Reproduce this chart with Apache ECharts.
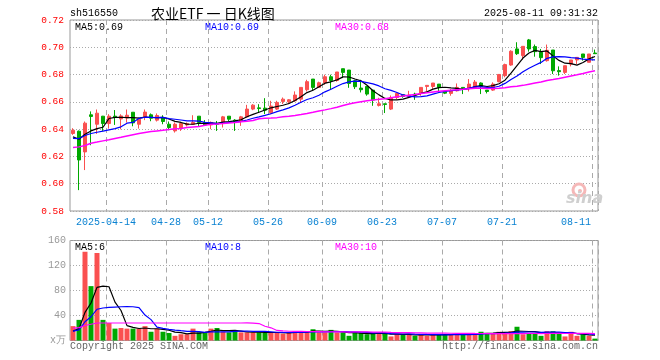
<!DOCTYPE html>
<html><head><meta charset="utf-8">
<script src="https://cdn.jsdelivr.net/npm/echarts@6/dist/echarts.min.js"></script>
<style>html,body{margin:0;padding:0;background:#fff}#c{width:660px;height:360px}</style>
</head><body><div id="c"></div>
<script>
const dates = ['2025-04-03','2025-04-07','2025-04-08','2025-04-09','2025-04-10','2025-04-11','2025-04-14','2025-04-15','2025-04-16','2025-04-17','2025-04-18','2025-04-21','2025-04-22','2025-04-23','2025-04-24','2025-04-25','2025-04-28','2025-04-29','2025-04-30','2025-05-06','2025-05-07','2025-05-08','2025-05-09','2025-05-12','2025-05-13','2025-05-14','2025-05-15','2025-05-16','2025-05-19','2025-05-20','2025-05-21','2025-05-22','2025-05-23','2025-05-26','2025-05-27','2025-05-28','2025-05-29','2025-05-30','2025-06-03','2025-06-04','2025-06-05','2025-06-06','2025-06-09','2025-06-10','2025-06-11','2025-06-12','2025-06-13','2025-06-16','2025-06-17','2025-06-18','2025-06-19','2025-06-20','2025-06-23','2025-06-24','2025-06-25','2025-06-26','2025-06-27','2025-06-30','2025-07-01','2025-07-02','2025-07-03','2025-07-04','2025-07-07','2025-07-08','2025-07-09','2025-07-10','2025-07-11','2025-07-14','2025-07-15','2025-07-16','2025-07-17','2025-07-18','2025-07-21','2025-07-22','2025-07-23','2025-07-24','2025-07-25','2025-07-28','2025-07-29','2025-07-30','2025-07-31','2025-08-01','2025-08-04','2025-08-05','2025-08-06','2025-08-07','2025-08-08','2025-08-11'];

const opens = [.6368,.6385,.6233,.6505,.6436,.6495,.6441,.6495,.6475,.6482,
.6524,.6436,.6490,.6505,.6466,.6485,.6436,.6387,.6407,.6431,
.6436,.6495,.6449,.6431,.6441,.6449,.6495,.6466,.6456,.6490,
.6547,.6556,.6554,.6520,.6547,.6603,.6600,.6608,.6620,.6689,
.6767,.6706,.6738,.6784,.6757,.6843,.6833,.6755,.6701,.6713,
.6686,.6574,.6586,.6547,.6632,.6652,.6640,.6657,.6662,.6713,
.6713,.6730,.6676,.6662,.6681,.6706,.6699,.6706,.6738,.6686,
.6686,.6748,.6792,.6870,.6988,.6939,.7054,.7005,.6963,.6902,
.6980,.6829,.6816,.6877,.6907,.6951,.6890,.6958];
const closes = [.6392,.6174,.6444,.6493,.6517,.6441,.6495,.6485,.6497,.6502,
.6446,.6473,.6525,.6480,.6500,.6456,.6412,.6436,.6441,.6441,
.6449,.6449,.6431,.6449,.6436,.6490,.6473,.6456,.6490,.6547,
.6576,.6551,.6539,.6569,.6596,.6620,.6615,.6650,.6706,.6748,
.6706,.6740,.6784,.6757,.6819,.6816,.6735,.6711,.6689,.6657,
.6613,.6586,.6581,.6632,.6662,.6640,.6650,.6650,.6706,.6721,
.6738,.6706,.6664,.6681,.6706,.6699,.6730,.6745,.6713,.6676,
.6730,.6801,.6873,.6971,.6953,.7007,.6988,.6968,.6924,.6978,
.6828,.6821,.6865,.6907,.6926,.6926,.6951,.6953];
const lows = [.6358,.5953,.6100,.6282,.6365,.6387,.6404,.6431,.6399,.6448,
.6421,.6404,.6466,.6458,.6456,.6436,.6392,.6375,.6387,.6420,
.6436,.6424,.6424,.6400,.6387,.6412,.6456,.6387,.6424,.6485,
.6539,.6520,.6510,.6510,.6540,.6583,.6583,.6600,.6596,.6676,
.6686,.6703,.6726,.6691,.6748,.6774,.6703,.6694,.6669,.6645,
.6571,.6566,.6518,.6540,.6620,.6630,.6632,.6615,.6645,.6674,
.6696,.6669,.6657,.6645,.6676,.6657,.6676,.6694,.6657,.6662,
.6680,.6743,.6780,.6865,.6944,.6909,.6968,.6931,.6877,.6895,
.6804,.6792,.6804,.6860,.6877,.6902,.6890,.6953];
const highs = [.6407,.6390,.6456,.6530,.6544,.6497,.6510,.6540,.6509,.6544,
.6524,.6485,.6544,.6515,.6515,.6502,.6456,.6449,.6441,.6449,
.6502,.6495,.6466,.6456,.6460,.6497,.6495,.6473,.6497,.6578,
.6583,.6583,.6627,.6608,.6608,.6632,.6620,.6677,.6706,.6762,
.6767,.6748,.6799,.6799,.6819,.6843,.6833,.6762,.6762,.6713,
.6686,.6630,.6586,.6647,.6667,.6652,.6681,.6667,.6706,.6721,
.6738,.6730,.6676,.6694,.6735,.6706,.6767,.6760,.6743,.6686,
.6743,.6801,.6880,.6978,.7037,.7007,.7061,.7020,.6988,.7020,
.6980,.6860,.6865,.6907,.6926,.6951,.6951,.6983];
const volumes = [23,33,142,87,140,33,28,19,20,19,
19,19,23,14,19,14,12,7.5,10,10,
19,13,13,19,20,14,13,15,13,13,
13,13,12,13,13,11,12,15,15,15,
18,13,13,17,13,13,7.5,13,12,10,
12,11,12,6.5,10,10,10,7.5,10,7.5,
10,10,10,10,10,10,10,12,14,12,
12,14,13,15,22,10,12,12,7.5,15,
15,12,6.5,14,7.5,10,7.5,3];

// moving-average values at the left edge (window starts before the chart)
const ma5Head = [.6343,.6326,.6363,.6387];
const ma10Head = [.6333,.6331,.6353,.6368,.6377,.6385,.6395,.6404,.6417];
const ma30Head = [.6265,.6270,.6280,.6297,.6305,.6314,.6322,.6331,.6340,.6350,
.6359,.6368,.6375,.6382,.6387,.6392,.6397,.6402,.6405,.6412,
.6416,.6420,.6428,.6436,.6438,.6441,.6445,.6449,.6455];
const vma5Head = [15,19,45,60];
const vma10Head = [15,17,30,38,50,52,53,53.5,54];
const vma30Head = [19.5,20.5,24,26,28,28,28,28,28,28,28,28,28,28,28,28,28,28,28,28,28,28,28,28,28,28,28,28,28];

const tickDates = ['2025-04-14','2025-04-28','2025-05-12','2025-05-26','2025-06-09','2025-06-23','2025-07-07','2025-07-21','2025-08-11'];
const tickLabels = ['2025-04-14','04-28','05-12','05-26','06-09','06-23','07-07','07-21','08-11'];
const priceTicks = {min: 0.58, max: 0.72, step: 0.02};
const volTicks = {min: 0, max: 160, step: 40};

function movingAvg(src, n, head) {
  return src.map((_, i) => {
    if (i < n - 1) return head[i];
    let s = 0;
    for (let k = i - n + 1; k <= i; k++) s += src[k];
    return +(s / n).toFixed(5);
  });
}

const UP = '#fa5050', DOWN = '#00a800';
const MONO = '"Liberation Mono","DejaVu Sans Mono",monospace';
const GRID_C = '#aaaaaa';

const kData = dates.map((d, i) => [opens[i], closes[i], lows[i], highs[i]]);
const isTick = (idx, val) => tickDates.indexOf(val) >= 0;

function xAxisCfg(gridIndex, withLabels) {
  return {
    type: 'category', gridIndex, data: dates, boundaryGap: true,
    axisLine: {show: false}, axisTick: {show: false},
    axisLabel: withLabels ? {
      show: true, interval: isTick, margin: 6,
      formatter: (val, idx) => {
        const t = tickLabels[tickDates.indexOf(val)];
        return idx === dates.length - 1 ? '{e|' + t + '}' : '{n|' + t + '}';
      },
      rich: {
        n: {fontFamily: MONO, fontSize: 10, color: '#0a82d2', padding: [0, 6, 0, 0]},
        e: {fontFamily: MONO, fontSize: 10, color: '#0a82d2', padding: [0, 38, 0, 0]}
      }
    } : {show: false},
    splitLine: {show: true, interval: isTick, lineStyle: {color: GRID_C, type: [5, 4], width: 1}}
  };
}

const lineS = (name, data, color, xi, yi, w) => ({
  name, type: 'line', data, xAxisIndex: xi, yAxisIndex: yi, showSymbol: false, symbol: 'none',
  smooth: false, z: 5, lineStyle: {color, width: w}, silent: true, animation: false
});

const chart = echarts.init(document.getElementById('c'), null, {renderer: 'canvas'});
const txt = (x, y, text, fill, opts) => Object.assign({
  type: 'text', x, y, style: Object.assign({text, fill, font: '10px ' + MONO, textVerticalAlign: 'middle'}, opts || {})
});

chart.setOption({
  animation: false,
  backgroundColor: '#ffffff',
  grid: [
    {left: 70, top: 20, width: 528, height: 191, show: true, borderColor: '#999', borderWidth: 1, backgroundColor: 'transparent'},
    {left: 70, top: 240.5, width: 528, height: 100, show: true, borderColor: '#999', borderWidth: 1, backgroundColor: 'transparent'}
  ],
  xAxis: [xAxisCfg(0, true), xAxisCfg(1, false)],
  yAxis: [
    {type: 'value', gridIndex: 0, min: priceTicks.min, max: priceTicks.max, interval: priceTicks.step,
     axisLine: {show: false}, axisTick: {show: false},
     axisLabel: {color: '#ff0000', fontFamily: MONO, fontSize: 9.5, margin: 6, formatter: v => v.toFixed(2)},
     splitLine: {show: true, lineStyle: {color: GRID_C, type: [1, 2], width: 1}}},
    {type: 'value', gridIndex: 1, min: volTicks.min, max: volTicks.max, interval: volTicks.step,
     axisLine: {show: false}, axisTick: {show: false},
     axisLabel: {color: '#999', fontFamily: MONO, fontSize: 10, margin: 4, formatter: v => v === 0 ? 'x万' : String(v)},
     splitLine: {show: true, lineStyle: {color: GRID_C, type: [1, 2], width: 1}}}
  ],
  series: [
    {type: 'candlestick', xAxisIndex: 0, yAxisIndex: 0, data: kData, barWidth: 4, z: 3, silent: true,
     itemStyle: {color: UP, color0: DOWN, borderColor: UP, borderColor0: DOWN, borderWidth: 1}},
    lineS('MA5', movingAvg(closes, 5, ma5Head), '#000000', 0, 0, 1.2),
    lineS('MA10', movingAvg(closes, 10, ma10Head), '#0000ff', 0, 0, 1.2),
    lineS('MA30', movingAvg(closes, 30, ma30Head), '#ff00ff', 0, 0, 1.5),
    {type: 'bar', xAxisIndex: 1, yAxisIndex: 1, data: volumes, barWidth: 5, z: 3, silent: true,
     itemStyle: {color: p => closes[p.dataIndex] >= opens[p.dataIndex] ? UP : DOWN}},
    lineS('VMA5', movingAvg(volumes, 5, vma5Head), '#000000', 1, 1, 1.2),
    lineS('VMA10', movingAvg(volumes, 10, vma10Head), '#0000ff', 1, 1, 1.2),
    lineS('VMA30', movingAvg(volumes, 30, vma30Head), '#ff00ff', 1, 1, 1.2)
  ],
  graphic: [
    txt(70, 13, 'sh516550', '#000'),
    txt(151, 14, '农业ETF 一 日K线图', '#000', {font: '14px "Noto Sans CJK SC", sans-serif'}),
    txt(598, 13, '2025-08-11 09:31:32', '#000', {textAlign: 'right'}),
    txt(75, 27, 'MA5:0.69', '#000'),
    txt(205, 27, 'MA10:0.69', '#0000ff'),
    txt(335, 27, 'MA30:0.68', '#ff00ff'),
    txt(75, 247, 'MA5:6', '#000'),
    txt(205, 247, 'MA10:8', '#0000ff'),
    txt(335, 247, 'MA30:10', '#ff00ff'),
    txt(70, 346, 'Copyright 2025 SINA.COM', '#666'),
    txt(598, 346, 'http://finance.sina.com.cn', '#666', {textAlign: 'right'}),
    {type: 'circle', shape: {cx: 579, cy: 190, r: 6}, style: {fill: 'none', stroke: '#f5b8b8', lineWidth: 3}, z: 1},
    {type: 'circle', shape: {cx: 580, cy: 191, r: 2}, style: {fill: '#f5b8b8'}, z: 1},
    {type: 'text', x: 566, y: 199, z: 1, style: {text: 'sina', fill: '#cfcfcf', font: 'italic bold 16px "DejaVu Sans", sans-serif', textVerticalAlign: 'middle'}}
  ]
});
</script></body></html>
